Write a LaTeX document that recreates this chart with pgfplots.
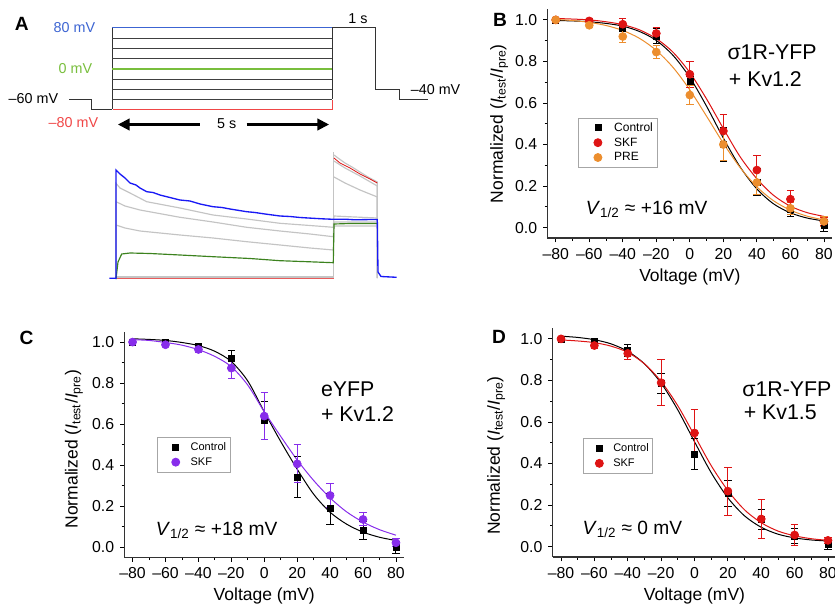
\documentclass[border=0pt]{standalone}
\usepackage{pgfplots}
\pgfplotsset{compat=1.18}
\usepackage{fontspec}
\setmainfont{Liberation Sans}
\usetikzlibrary{arrows.meta}

\definecolor{skfred}{RGB}{222,20,20}
\definecolor{preorange}{RGB}{236,142,46}
\definecolor{skfpurple}{RGB}{135,45,235}
\definecolor{protblue}{RGB}{60,100,210}
\definecolor{protgreen}{RGB}{120,190,60}
\definecolor{protred}{RGB}{240,70,70}
\definecolor{trblue}{RGB}{25,25,245}
\definecolor{trgreen}{RGB}{60,130,30}
\definecolor{trgray}{RGB}{196,196,196}

\pgfplotsset{
  ivstyle/.style={
    scale only axis, clip=false,
    axis x line*=bottom, axis y line*=left,
    xmin=-85, xmax=85, ymin=-0.05, ymax=1.05,
    xtick={-80,-60,-40,-20,0,20,40,60,80},
    xticklabels={–80,–60,–40,–20,0,20,40,60,80},
    ytick={0,0.2,0.4,0.6,0.8,1},
    yticklabels={0.0,0.2,0.4,0.6,0.8,1.0},
    minor x tick num=1, minor y tick num=1,
    tick align=outside,
    major tick length=2.6pt, minor tick length=1.6pt,
    tick style={black, line width=0.5pt},
    axis line style={line width=0.7pt, black!80},
    ticklabel style={font=\fontsize{9.5}{11}\selectfont},
    label style={font=\fontsize{10.5}{12}\selectfont},
    xlabel={Voltage (mV)},
    xlabel style={at={(axis description cs:0.5,-0.17)}, anchor=center},
    ylabel={Normalized (\textit{I}\textsubscript{test}/\textit{I}\textsubscript{pre})},
    legend cell align=left,
    legend style={draw=black!35, line width=0.5pt, row sep=0pt, inner sep=1.5pt,
      nodes={inner sep=1pt, text height=5.5pt, text depth=1.4pt}},
  },
  % legend image: mark at #1, image width #2
  legimg/.style 2 args={legend image code/.code={%
    \path (0cm,0cm) (#2,0cm);
    \draw[##1] plot coordinates {(#1,0cm)};}},
  fit/.style={smooth, no marks, line width=0.6pt, forget plot},
  pts/.style={only marks, mark options={solid},
    error bars/y dir=both, error bars/y explicit,
    error bars/error bar style={line width=0.6pt},
    error bars/error mark options={rotate=90, mark size=2.2pt, line width=0.6pt}},
}

\begin{document}
\begin{tikzpicture}
\path[use as bounding box] (0,0) rectangle (501pt,364.2pt);

% ---------- panel A: protocol and traces (pixel space) ----------
\begin{axis}[at={(0pt,178.2pt)}, anchor=south west, scale only axis,
  width=282pt, height=186pt, xmin=0, xmax=470, ymin=0, ymax=310,
  y dir=reverse, axis lines=none, clip=false]
% protocol
\addplot[black!80, line width=0.6pt] coordinates {(69,99) (92,99) (92,109.3) (112.3,109.3)};
\addplot[black!80, line width=0.6pt] coordinates {(112.3,109.3) (112.3,27.3)};
\addplot[black!75, line width=0.6pt] coordinates {(112.3,99.3) (332.3,99.3)};
\addplot[black!75, line width=0.6pt] coordinates {(112.3,89.3) (332.3,89.3)};
\addplot[black!75, line width=0.6pt] coordinates {(112.3,79) (332.3,79)};
\addplot[protgreen, line width=0.8pt] coordinates {(112.3,69) (332.3,69)};
\addplot[black!75, line width=0.6pt] coordinates {(112.3,58.3) (332.3,58.3)};
\addplot[black!75, line width=0.6pt] coordinates {(112.3,48.3) (332.3,48.3)};
\addplot[black!75, line width=0.6pt] coordinates {(112.3,38.3) (332.3,38.3)};
\addplot[protblue, line width=0.7pt] coordinates {(112.3,27.3) (332.3,27.3)};
\addplot[black!80, line width=0.6pt] coordinates {(332.3,99.3) (332.3,27.3) (376,27.3) (376,89.3) (400,89.3) (400,99.3) (428.3,99.3)};
\addplot[protred, line width=0.8pt] coordinates {(112.8,109.3) (332.3,109.3) (332.3,99.6)};
\addplot[black, line width=1.3pt, -{Triangle[length=7pt,width=7pt]}] coordinates {(200,124.5) (118,124.5)};
\addplot[black, line width=1.3pt, -{Triangle[length=7pt,width=7pt]}] coordinates {(246.7,124.5) (329,124.5)};
% traces
\addplot[trgray, line width=0.6pt] coordinates {(334,278) (334,152)};
\addplot[trgray, line width=0.6pt] coordinates {(116,276.3) (334,276.3)};
\addplot[trgray, line width=0.6pt] coordinates {(116,277.3) (334,277.3)};
\addplot[skfred!70, line width=0.5pt] coordinates {(116,278.3) (334,278.3)};
\addplot[trgray, line width=0.7pt] coordinates {(334,155) (338,158) (345,163) (352,167) (360,172) (368,177) (377.3,182) (377.3,278)};
\addplot[trgray, line width=0.7pt] coordinates {(334,161) (345,168) (360,176) (377.3,186) (377.3,278)};
\addplot[skfred, line width=0.5pt] coordinates {(334,158) (340,163) (350,168) (360,174) (370,179) (377.3,183)};
\addplot[trgray, line width=0.7pt] coordinates {(334,177) (345,183) (360,190) (377.3,197) (377.3,278)};
\addplot[trgray, line width=0.7pt] coordinates {(116,279) (116,183.3) (120,188) (130,193) (146.7,201.7) (180,208) (213,215) (246.7,219) (280,223.3) (310,225.5) (333.3,227.3) (334,216) (355,217) (377.3,218)};
\addplot[trgray, line width=0.7pt] coordinates {(116,279) (116,201.7) (125,206) (140,210) (180,217.3) (213,222) (246.7,227.3) (280,231) (310,234) (333.3,236.7) (334,222) (377.3,222)};
\addplot[trgray, line width=0.7pt] coordinates {(116,279) (116,225) (125,228) (140,231) (180,235) (213,238) (246.7,241.7) (280,245) (310,248) (333.3,250) (334,226) (377.3,226)};
\addplot[trgreen, line width=0.7pt] coordinates {(116,279) (118,262) (121.7,254) (130,253) (150,253.5) (180,255) (213,256.7) (250,258.5) (280,260.7) (310,261.8) (333.3,262.7) (334,224) (350,223.5) (377.3,223.5)};
\addplot[trblue, line width=0.8pt] coordinates {(109.3,278.3) (116,278.3) (116,170) (120,174) (125,178) (130,183) (136,185) (140,188) (146.7,191.7) (153,192.5) (160,195) (170,197.5) (180,200) (190,201) (200,204) (213,206.7) (222,207.5) (230,209) (246.7,211.7) (255,212.5) (265,214) (280,216) (290,216.5) (300,217.5) (313.3,218.3) (322,218.8) (333.3,219.3) (345,219.2) (355,219.8) (365,219.6) (377.3,219.5) (378,272) (381,276.5) (396.7,277.3)};
% labels
\node[font=\bfseries\fontsize{11.5}{13}\selectfont] at (axis cs:21.7,24) {A};
\begin{scope}[font=\fontsize{8.6}{10}\selectfont]
\node[anchor=east, text=protblue] at (axis cs:101,27.3) {80 mV};
\node[anchor=east, text=protgreen] at (axis cs:98,69) {0 mV};
\node[anchor=east] at (axis cs:64,99) {–60 mV};
\node[anchor=east, text=protred] at (axis cs:104,123) {–80 mV};
\node at (axis cs:358,19) {1 s};
\node[anchor=west] at (axis cs:405,89.3) {–40 mV};
\node at (axis cs:226.7,124) {5 s};
\end{scope}
\end{axis}

% ---------- panel B ----------
\begin{axis}[ivstyle, at={(328.4pt,221.4pt)}, anchor=south west,
  width=171pt, height=137.1pt,
  ylabel style={at={(axis description cs:-0.169,0.5)}, anchor=center},
  legimg={0.36cm}{0.66cm},
  legend style={at={(axis cs:-67,0.53)}, anchor=north west,
    font=\fontsize{7.2}{8.4}\selectfont}]
\addplot[fit, black] coordinates {(-80,0.997) (-70,0.995) (-60,0.991) (-50,0.983) (-40,0.970) (-30,0.944) (-20,0.901) (-10,0.829) (0,0.723) (10,0.584) (20,0.431) (30,0.292) (40,0.186) (50,0.114) (60,0.071) (70,0.046) (80,0.032)};
\addplot[fit, skfred] coordinates {(-80,1.007) (-70,1.004) (-60,1.000) (-50,0.991) (-40,0.977) (-30,0.952) (-20,0.910) (-10,0.844) (0,0.746) (10,0.619) (20,0.477) (30,0.341) (40,0.235) (50,0.155) (60,0.103) (70,0.072) (80,0.054)};
\addplot[fit, preorange] coordinates {(-80,1.002) (-70,0.997) (-60,0.988) (-50,0.973) (-40,0.949) (-30,0.911) (-20,0.853) (-10,0.771) (0,0.663) (10,0.536) (20,0.406) (30,0.289) (40,0.196) (50,0.129) (60,0.084) (70,0.055) (80,0.037)};
\addplot[pts, black, mark=square*, mark size=1.8pt] coordinates {
 (-80,1.00) +- (0,0.005) (-60,0.99) +- (0,0.01) (-40,0.963) +- (0,0.02)
 (-20,0.922) +- (0,0.035) (0,0.706) +- (0,0.02) (20,0.40) +- (0,0.08)
 (40,0.22) +- (0,0.065) (60,0.09) +- (0,0.035) (80,0.01) +- (0,0.03)};
\addplot[pts, skfred, mark=*, mark size=2.4pt] coordinates {
 (-80,1.00) +- (0,0.005) (-60,0.995) +- (0,0.01) (-40,0.979) +- (0,0.027)
 (-20,0.935) +- (0,0.03) (0,0.738) +- (0,0.062) (20,0.465) +- (0,0.08)
 (40,0.277) +- (0,0.07) (60,0.137) +- (0,0.042) (80,0.03) +- (0,0.02)};
\addplot[pts, preorange, mark=*, mark size=2.4pt] coordinates {
 (-80,1.00) +- (0,0.005) (-60,0.974) +- (0,0.012) (-40,0.92) +- (0,0.03)
 (-20,0.845) +- (0,0.03) (0,0.638) +- (0,0.045) (20,0.40) +- (0,0.075)
 (40,0.217) +- (0,0.06) (60,0.093) +- (0,0.03) (80,0.03) +- (0,0.025)};
\legend{Control, SKF, PRE}
\node[anchor=west, font=\fontsize{12.8}{15}\selectfont] at (axis cs:19,0.843) {σ1R-YFP};
\node[anchor=west, font=\fontsize{12.8}{15}\selectfont] at (axis cs:19.8,0.714) {+ Kv1.2};
\node[anchor=west, font=\fontsize{11.5}{13}\selectfont] at (axis cs:-65.5,0.088) {\textit{V}\textsubscript{1/2} ≈ +16 mV};
\end{axis}

% ---------- panel C ----------
\begin{axis}[ivstyle, at={(74.6pt,29.8pt)}, anchor=south west,
  width=167.9pt, height=135.3pt,
  ylabel style={at={(axis description cs:-0.18,0.48)}, anchor=center},
  legimg={0.33cm}{0.6cm},
  legend style={at={(axis cs:-65.3,0.537)}, anchor=north west,
    font=\fontsize{6.6}{8}\selectfont}]
\addplot[fit, black] coordinates {(-80,1.016) (-70,1.013) (-60,1.008) (-50,0.998) (-40,0.983) (-30,0.955) (-20,0.905) (-10,0.810) (0,0.660) (10,0.515) (20,0.380) (30,0.258) (40,0.170) (50,0.112) (60,0.073) (70,0.048) (80,0.032)};
\addplot[fit, skfpurple] coordinates {(-80,1.012) (-70,1.008) (-60,0.998) (-50,0.985) (-40,0.963) (-30,0.930) (-20,0.880) (-10,0.790) (0,0.660) (10,0.540) (20,0.425) (30,0.325) (40,0.240) (50,0.172) (60,0.122) (70,0.085) (80,0.058)};
\addplot[pts, black, mark=square*, mark size=1.8pt] coordinates {
 (-80,1.00) +- (0,0.005) (-60,1.00) +- (0,0.008) (-40,0.98) +- (0,0.012)
 (-20,0.922) +- (0,0.037) (0,0.617) +- (0,0.094) (20,0.341) +- (0,0.10)
 (40,0.187) +- (0,0.075) (60,0.08) +- (0,0.045) (80,-0.003) +- (0,0.03)};
\addplot[pts, skfpurple, mark=*, mark size=2.4pt] coordinates {
 (-80,1.00) +- (0,0.005) (-60,0.987) +- (0,0.01) (-40,0.964) +- (0,0.015)
 (-20,0.873) +- (0,0.05) (0,0.639) +- (0,0.113) (20,0.406) +- (0,0.093)
 (40,0.252) +- (0,0.06) (60,0.135) +- (0,0.032) (80,0.021) +- (0,0.02)};
\legend{Control, SKF}
\node[anchor=west, font=\fontsize{12.8}{15}\selectfont] at (axis cs:30.9,0.772) {eYFP};
\node[anchor=west, font=\fontsize{12.8}{15}\selectfont] at (axis cs:30.9,0.650) {+ Kv1.2};
\node[anchor=west, font=\fontsize{11.5}{13}\selectfont] at (axis cs:-69.4,0.081) {\textit{V}\textsubscript{1/2} ≈ +18 mV};
\end{axis}

% ---------- panel D ----------
\begin{axis}[ivstyle, at={(331.6pt,30pt)}, anchor=south west,
  width=170.2pt, height=137.1pt,
  ylabel style={at={(axis description cs:-0.199,0.444)}, anchor=center},
  legimg={0.27cm}{0.52cm},
  legend style={at={(axis cs:-66.7,0.522)}, anchor=north west,
    font=\fontsize{6.6}{8}\selectfont}]
\addplot[fit, black] coordinates {(-80,1.013) (-70,1.007) (-60,0.996) (-50,0.976) (-40,0.940) (-30,0.880) (-20,0.787) (-10,0.658) (0,0.505) (10,0.356) (20,0.235) (30,0.148) (40,0.093) (50,0.060) (60,0.042) (70,0.032) (80,0.027)};
\addplot[fit, skfred] coordinates {(-80,0.995) (-70,0.990) (-60,0.982) (-50,0.965) (-40,0.935) (-30,0.880) (-20,0.795) (-10,0.678) (0,0.535) (10,0.390) (20,0.270) (30,0.177) (40,0.115) (50,0.075) (60,0.052) (70,0.038) (80,0.030)};
\addplot[pts, black, mark=square*, mark size=1.8pt] coordinates {
 (-80,1.00) +- (0,0.005) (-60,0.989) +- (0,0.01) (-40,0.944) +- (0,0.027)
 (-20,0.785) +- (0,0.05) (0,0.446) +- (0,0.075) (20,0.257) +- (0,0.062)
 (40,0.13) +- (0,0.05) (60,0.05) +- (0,0.035) (80,0.01) +- (0,0.025)};
\addplot[pts, skfred, mark=*, mark size=2.4pt] coordinates {
 (-80,1.00) +- (0,0.005) (-60,0.968) +- (0,0.015) (-40,0.93) +- (0,0.03)
 (-20,0.789) +- (0,0.11) (0,0.547) +- (0,0.115) (20,0.267) +- (0,0.115)
 (40,0.133) +- (0,0.092) (60,0.056) +- (0,0.05) (80,0.03) +- (0,0.015)};
\legend{Control, SKF}
\node[anchor=west, font=\fontsize{12.8}{15}\selectfont] at (axis cs:25.2,0.759) {σ1R-YFP};
\node[anchor=west, font=\fontsize{12.8}{15}\selectfont] at (axis cs:26,0.647) {+ Kv1.5};
\node[anchor=west, font=\fontsize{11.5}{13}\selectfont] at (axis cs:-70.6,0.085) {\textit{V}\textsubscript{1/2} ≈ 0 mV};
\end{axis}

% panel letters
\node[font=\bfseries\fontsize{11.5}{13}\selectfont] at (300pt,352.2pt) {B};
\node[font=\bfseries\fontsize{11.5}{13}\selectfont] at (16pt,161.4pt) {C};
\node[font=\bfseries\fontsize{11.5}{13}\selectfont] at (299.4pt,162.2pt) {D};
\end{tikzpicture}
\end{document}
